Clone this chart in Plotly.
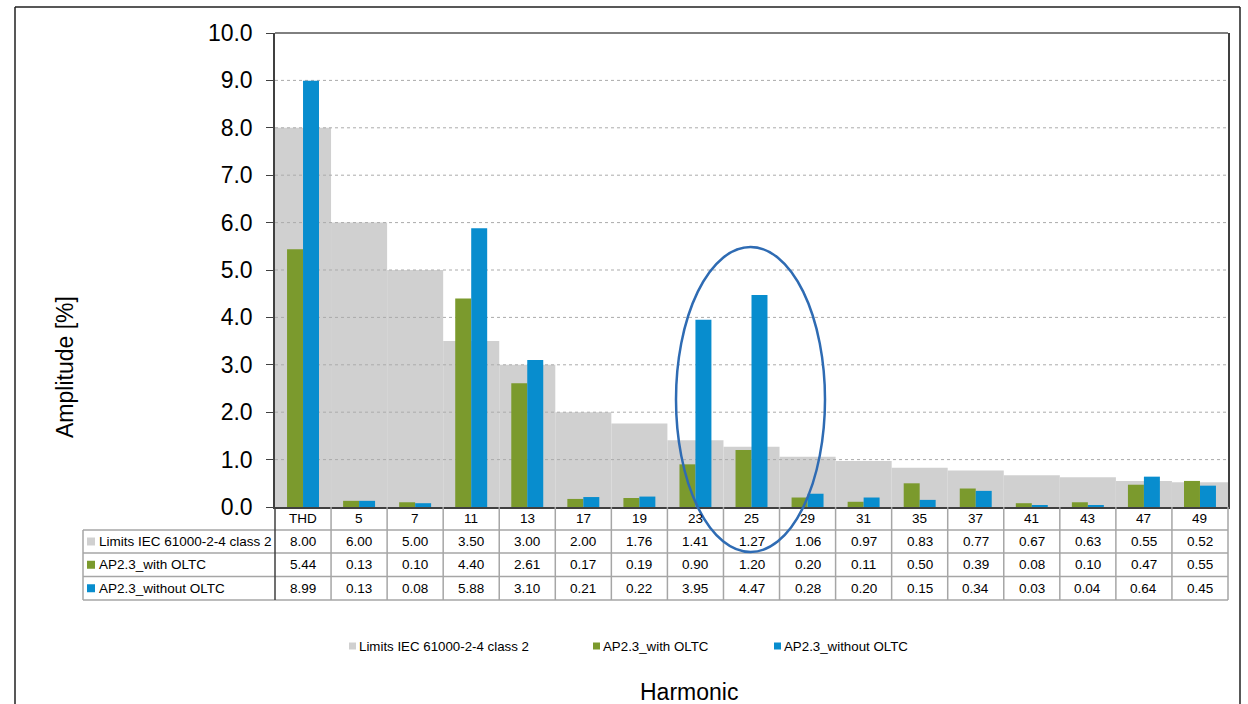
import plotly.graph_objects as go
import numpy as np

# ---------------- data ----------------
categories = ["THD", "5", "7", "11", "13", "17", "19", "23", "25", "29",
              "31", "35", "37", "41", "43", "47", "49"]
limits_iec = [8.00, 6.00, 5.00, 3.50, 3.00, 2.00, 1.76, 1.41, 1.27, 1.06,
              0.97, 0.83, 0.77, 0.67, 0.63, 0.55, 0.52]
with_oltc = [5.44, 0.13, 0.10, 4.40, 2.61, 0.17, 0.19, 0.90, 1.20, 0.20,
             0.11, 0.50, 0.39, 0.08, 0.10, 0.47, 0.55]
without_oltc = [8.99, 0.13, 0.08, 5.88, 3.10, 0.21, 0.22, 3.95, 4.47, 0.28,
                0.20, 0.15, 0.34, 0.03, 0.04, 0.64, 0.45]
series_names = ["Limits IEC 61000-2-4 class 2", "AP2.3_with OLTC", "AP2.3_without OLTC"]
y_ticks = [0, 1, 2, 3, 4, 5, 6, 7, 8, 9, 10]

# ---------------- style ----------------
C_GREY = "#D0D0D0"
C_GREEN = "#7B9A2D"
C_BLUE = "#088DCE"
C_ELLIPSE = "#2E6BB3"
C_TABLE = "#A6A6A6"
C_AXIS = "#404040"
FONT = "Liberation Sans, Arial, sans-serif"
TABLE_FS = 13.5
LEGEND_FS = 13.3

W, H = 1248, 704
# plot area in window pixels: x 275..1228, y 33..507
L, R, T, B = 275, W - 1228, 33, H - 507
PW, PH = W - L - R, H - T - B


def px(xp):
    return (xp - L) / PW


def py(yp):
    return (H - B - yp) / PH


n = len(categories)
idx = np.arange(n)
bw = 0.285

fig = go.Figure()

fig.add_trace(go.Bar(x=idx, y=limits_iec, width=1.0, marker=dict(color=C_GREY, line=dict(width=0)),
                     name=series_names[0], xaxis="x", yaxis="y", hoverinfo="x+y"))
gx, gy = [], []
for v in y_ticks[1:-1]:
    gx += [-0.5, n - 0.5, None]
    gy += [v, v, None]
fig.add_trace(go.Scatter(x=gx, y=gy, mode="lines", line=dict(color="#ABABAB", width=1, dash="dot"),
                         hoverinfo="skip", showlegend=False, xaxis="x", yaxis="y"))
fig.add_trace(go.Bar(x=idx, y=with_oltc, width=bw, offset=-bw, marker=dict(color=C_GREEN, line=dict(width=0)),
                     name=series_names[1], xaxis="x2", yaxis="y2"))
fig.add_trace(go.Bar(x=idx, y=without_oltc, width=bw, offset=0, marker=dict(color=C_BLUE, line=dict(width=0)),
                     name=series_names[2], xaxis="x2", yaxis="y2"))

fig.update_layout(
    width=W, height=H,
    margin=dict(l=L, r=R, t=T, b=B, autoexpand=False),
    paper_bgcolor="white", plot_bgcolor="white",
    barmode="overlay", showlegend=False,
    font=dict(family=FONT, color="black"),
    xaxis=dict(range=[-0.5, n - 0.5], showticklabels=False, ticks="", showgrid=False, zeroline=False,
               showline=True, linecolor=C_AXIS, linewidth=2),
    yaxis=dict(range=[0, 10], tickvals=y_ticks, tickformat=".1f", ticks="outside", ticklen=7,
               tickcolor=C_AXIS, tickwidth=1, showgrid=False, zeroline=False,
               showline=True, linecolor=C_AXIS, linewidth=1.5, mirror=True,
               tickfont=dict(size=23, family=FONT, color="black"), ticklabelstandoff=9),
    xaxis2=dict(range=[-0.5, n - 0.5], overlaying="x", visible=False),
    yaxis2=dict(range=[0, 10], overlaying="y", visible=False),
)

shapes = []
ann = []
shapes.append(dict(type="line", xref="paper", yref="paper", x0=0, x1=1, y0=1, y1=1,
                   line=dict(color="black", width=1)))
# outer chart frame
for (xa, ya, xb, yb) in [(15, 7, 1240, 7), (15, 7, 15, 704), (1240, 7, 1240, 704)]:
    shapes.append(dict(type="line", xref="paper", yref="paper", x0=px(xa), x1=px(xb), y0=py(ya), y1=py(yb),
                       line=dict(color="#202020", width=1.5), layer="above"))

# ---------------- data table ----------------
row_tops = [507, 530, 553, 576.5, 600]
tab_left = 83
col_w = 1.0 / n
for yv in row_tops[1:]:
    shapes.append(dict(type="line", xref="paper", yref="paper", x0=px(tab_left), x1=1,
                       y0=py(yv), y1=py(yv), line=dict(color=C_TABLE, width=1.5)))
for i in range(n + 1):
    shapes.append(dict(type="line", xref="paper", yref="paper", x0=i * col_w, x1=i * col_w,
                       y0=py(row_tops[0]), y1=py(row_tops[-1]),
                       line=dict(color=C_AXIS if i == 0 else C_TABLE, width=1.5)))
shapes.append(dict(type="line", xref="paper", yref="paper", x0=px(tab_left), x1=px(tab_left),
                   y0=py(row_tops[1]), y1=py(row_tops[-1]), line=dict(color=C_TABLE, width=1.5)))

rows = [limits_iec, with_oltc, without_oltc]
colors = [C_GREY, C_GREEN, C_BLUE]
for i, c in enumerate(categories):
    ann.append(dict(x=(i + 0.5) * col_w, y=py((row_tops[0] + row_tops[1]) / 2), xref="paper", yref="paper",
                    text=c, showarrow=False, font=dict(size=TABLE_FS), xanchor="center", yanchor="middle"))
for r, (vals, nm, col) in enumerate(zip(rows, series_names, colors)):
    yc = (row_tops[r + 1] + row_tops[r + 2]) / 2
    for i, v in enumerate(vals):
        ann.append(dict(x=(i + 0.5) * col_w, y=py(yc), xref="paper", yref="paper",
                        text=f"{v:.2f}", showarrow=False, font=dict(size=TABLE_FS),
                        xanchor="center", yanchor="middle"))
    shapes.append(dict(type="rect", xref="paper", yref="paper", x0=px(87), x1=px(95),
                       y0=py(yc + 4), y1=py(yc - 4), fillcolor=col, line=dict(width=0)))
    ann.append(dict(x=px(97), y=py(yc), xref="paper", yref="paper", text=nm, showarrow=False,
                    font=dict(size=TABLE_FS), xanchor="left", yanchor="middle"))

# ---------------- legend ----------------
leg_y = 646
leg_x = [349, 593, 774]
for xs, nm, col in zip(leg_x, series_names, colors):
    shapes.append(dict(type="rect", xref="paper", yref="paper", x0=px(xs), x1=px(xs + 7),
                       y0=py(leg_y + 3.5), y1=py(leg_y - 3.5), fillcolor=col, line=dict(width=0)))
    ann.append(dict(x=px(xs + 8), y=py(leg_y), xref="paper", yref="paper", text=nm, showarrow=False,
                    font=dict(size=LEGEND_FS), xanchor="left", yanchor="middle"))

# ---------------- titles ----------------
ann.append(dict(x=px(65), y=py(367), xref="paper", yref="paper", text="Amplitude [%]", textangle=-90,
                showarrow=False, font=dict(size=23), xanchor="center", yanchor="middle"))
ann.append(dict(x=px(689), y=py(692), xref="paper", yref="paper", text="Harmonic",
                showarrow=False, font=dict(size=23), xanchor="center", yanchor="middle"))

# ---------------- highlight ellipse ----------------
shapes.append(dict(type="circle", xref="paper", yref="paper", x0=px(676), x1=px(825), y0=py(552), y1=py(247),
                   line=dict(color=C_ELLIPSE, width=2.5), layer="above"))

fig.update_layout(shapes=shapes, annotations=ann)
fig.write_html(
    "out.html",
    config={"displayModeBar": False},
    post_script="document.body.style.margin='0';document.body.style.overflow='hidden';",
)
